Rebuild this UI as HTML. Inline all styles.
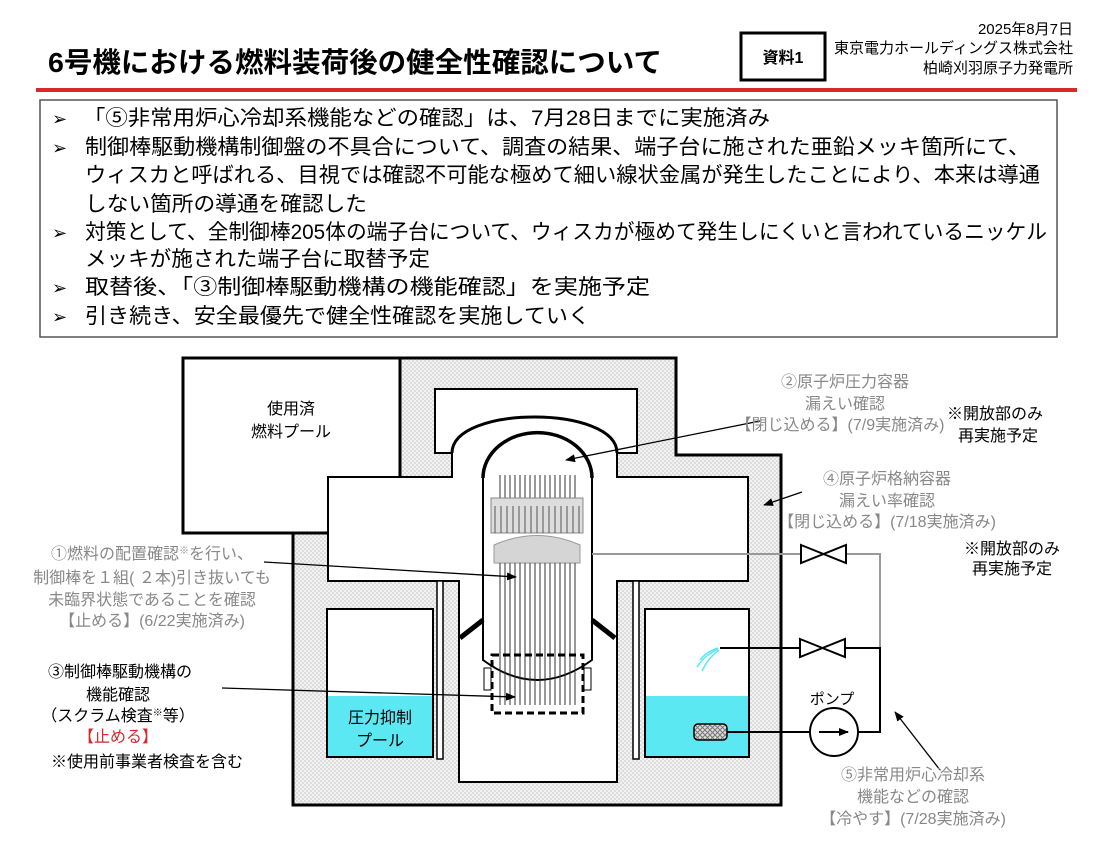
<!DOCTYPE html>
<html><head><meta charset="utf-8"><style>
body{margin:0;background:#fff;}
svg{display:block;font-family:"Liberation Sans","Noto Sans CJK JP",sans-serif;}
</style></head><body>
<svg width="1113" height="861" viewBox="0 0 1113 861" xmlns="http://www.w3.org/2000/svg">
<defs>
<pattern id="h" width="4" height="4" patternUnits="userSpaceOnUse"><rect width="4" height="4" fill="#f2f2f2"/><rect width="2" height="2" fill="#dcdcdc"/><rect x="2" y="2" width="2" height="2" fill="#dcdcdc"/></pattern>
<pattern id="x" width="5" height="5" patternUnits="userSpaceOnUse"><rect width="5" height="5" fill="#ddd"/><path d="M0 0L5 5M5 0L0 5" stroke="#777" stroke-width="1"/></pattern>
<marker id="a" markerWidth="10" markerHeight="8" refX="9" refY="4" orient="auto" markerUnits="userSpaceOnUse"><path d="M0 0L10 4L0 8z" fill="#000"/></marker>
</defs>
<!-- header -->
<text x="48" y="72" font-size="28" font-weight="bold" textLength="614" lengthAdjust="spacingAndGlyphs">6号機における燃料装荷後の健全性確認について</text>
<rect x="741" y="33" width="84" height="47" fill="#fff" stroke="#000" stroke-width="3"/>
<text x="783" y="63" font-size="16" font-weight="bold" text-anchor="middle">資料1</text>
<g font-size="15" text-anchor="end"><text x="1073" y="34">2025年8月7日</text><text x="1073" y="53">東京電力ホールディングス株式会社</text><text x="1073" y="73">柏崎刈羽原子力発電所</text></g>
<rect x="36" y="88" width="1041" height="4" fill="#d8282c"/>
<!-- bullets -->
<rect x="40" y="100" width="1017" height="237" fill="#fff" stroke="#555" stroke-width="1.5"/>
<g font-size="21" lengthAdjust="spacingAndGlyphs">
<g font-size="18"><text x="52" y="125">➢</text><text x="52" y="154">➢</text><text x="52" y="239">➢</text><text x="52" y="294">➢</text><text x="52" y="323">➢</text></g>
<text x="83" y="125" textLength="687" lengthAdjust="spacingAndGlyphs">「⑤非常用炉心冷却系機能などの確認」は、7月28日までに実施済み</text>
<text x="85" y="154" textLength="945" lengthAdjust="spacingAndGlyphs">制御棒駆動機構制御盤の不具合について、調査の結果、端子台に施された亜鉛メッキ箇所にて、</text>
<text x="85" y="182" textLength="955" lengthAdjust="spacingAndGlyphs">ウィスカと呼ばれる、目視では確認不可能な極めて細い線状金属が発生したことにより、本来は導通</text>
<text x="85" y="211" textLength="282" lengthAdjust="spacingAndGlyphs">しない箇所の導通を確認した</text>
<text x="85" y="239" textLength="962" lengthAdjust="spacingAndGlyphs">対策として、全制御棒205体の端子台について、ウィスカが極めて発生しにくいと言われているニッケル</text>
<text x="85" y="266" textLength="345" lengthAdjust="spacingAndGlyphs">メッキが施された端子台に取替予定</text>
<text x="85" y="294" textLength="565" lengthAdjust="spacingAndGlyphs">取替後、「③制御棒駆動機構の機能確認」を実施予定</text>
<text x="85" y="323" textLength="505" lengthAdjust="spacingAndGlyphs">引き続き、安全最優先で健全性確認を実施していく</text>
</g>
<!-- building -->
<path d="M400 358H676V455H781V805H293V455H400Z" fill="url(#h)" stroke="#000" stroke-width="3"/>
<rect x="183" y="358" width="217" height="175" fill="#fff" stroke="#000" stroke-width="3"/>
<text x="291" y="414" font-size="16" text-anchor="middle">使用済</text>
<text x="291" y="437" font-size="16" text-anchor="middle">燃料プール</text>
<!-- drywell white -->
<path d="M435 389H637V453H617V477H748V581H617V782H459V581H328V477H452V453H435Z" fill="#fff" stroke="#000" stroke-width="2"/>
<path d="M452 453V477 M617 453V477" stroke="#000" stroke-width="2"/>
<path d="M452 453C452 405 617 405 617 453" fill="none" stroke="#000" stroke-width="3"/>
<!-- inner walls -->
<rect x="437" y="581" width="6" height="178" fill="#fff" stroke="#000" stroke-width="1.5"/>
<rect x="633" y="581" width="6" height="178" fill="#fff" stroke="#000" stroke-width="1.5"/>
<!-- pools -->
<rect x="327" y="609" width="106" height="148" fill="#fff" stroke="#000" stroke-width="2"/>
<rect x="328" y="696" width="104" height="60" fill="#5ce8f3"/>
<text x="380" y="723" font-size="16" text-anchor="middle">圧力抑制</text>
<text x="380" y="746" font-size="16" text-anchor="middle">プール</text>
<rect x="645" y="609" width="104" height="148" fill="#fff" stroke="#000" stroke-width="2"/>
<rect x="646" y="696" width="102" height="60" fill="#5ce8f3"/>
<path d="M700 660Q706 652 718 648M697 667Q704 656 718 649M702 671Q708 658 719 650" fill="none" stroke="#5ce8f3" stroke-width="1.5"/>
<rect x="694" y="724" width="33" height="16" rx="4" fill="url(#x)" stroke="#000" stroke-width="1.5"/>
<!-- RPV -->
<path d="M483 478A54 45 0 0 1 592 478" fill="none" stroke="#000" stroke-width="3.5"/>
<path d="M483 478V660Q537 700 592 660V478" fill="none" stroke="#000" stroke-width="2"/>
<path d="M483 620L460 638M592 620L615 638" stroke="#000" stroke-width="5"/>
<g stroke="#333" stroke-width="1">
<path d="M500 475V498M505 475V498M510 475V498M515 475V498M520 475V498M525 475V498M530 475V498M535 475V498M540 475V498M545 475V498M550 475V498M555 475V498M560 475V498M565 475V498M570 475V498M575 475V498"/>
</g>
<rect x="491" y="498" width="92" height="35" fill="#ddd" stroke="#888"/>
<g stroke="#555" stroke-width="1"><path d="M495 506V533M501 506V533M507 506V533M513 506V533M519 506V533M525 506V533M531 506V533M537 506V533M543 506V533M549 506V533M555 506V533M561 506V533M567 506V533M573 506V533M579 506V533"/></g>
<path d="M494 563V545Q537 526 580 545V563Z" fill="#d5d5d5" stroke="#999"/>
<g stroke="#333" stroke-width="1"><path d="M500 563V705M505 563V705M510 563V705M515 563V705M520 563V705M525 563V705M530 563V705M535 563V705M540 563V705M545 563V705M550 563V705M555 563V705M560 563V705M565 563V705M570 563V705M575 563V705"/></g>
<rect x="492" y="655" width="91" height="58" fill="none" stroke="#000" stroke-width="3" stroke-dasharray="7 4"/>
<rect x="484" y="668" width="7" height="22" fill="#fff" stroke="#000"/>
<rect x="584" y="668" width="7" height="22" fill="#fff" stroke="#000"/>
<!-- piping -->
<path d="M592 554H880V648" fill="none" stroke="#999" stroke-width="2"/>
<path d="M720 648H880V732H858M810 732H727" fill="none" stroke="#000" stroke-width="2"/>
<path d="M801 545L846 563V545L801 563Z" fill="#fff" stroke="#000" stroke-width="2"/>
<path d="M800 639L845 657V639L800 657Z" fill="#fff" stroke="#000" stroke-width="2"/>
<circle cx="834" cy="732" r="24" fill="#fff" stroke="#000" stroke-width="2"/>
<path d="M819 732H848" stroke="#000" stroke-width="2" marker-end="url(#a)"/>
<text x="832" y="704" font-size="15" text-anchor="middle">ポンプ</text>
<!-- leaders -->
<g stroke="#000" stroke-width="1.3" fill="none" marker-end="url(#a)">
<path d="M760 421L566 460"/><path d="M802 492L764 505"/><path d="M264 562L516 577"/><path d="M222 688L515 697"/><path d="M940 770L895 712"/>
</g>
<!-- labels -->
<g font-size="16" fill="#888" text-anchor="middle">
<text x="152" y="559">①燃料の配置確認<tspan font-size="10" dy="-5">※</tspan><tspan dy="5">を行い、</tspan></text>
<text x="152" y="583">制御棒を１組( ２本)引き抜いても</text>
<text x="152" y="605">未臨界状態であることを確認</text>
<text x="152" y="626">【止める】(6/22実施済み)</text>
<text x="845" y="387">②原子炉圧力容器</text>
<text x="845" y="409">漏えい確認</text>
<text x="840" y="430">【閉じ込める】(7/9実施済み)</text>
<text x="887" y="484">④原子炉格納容器</text>
<text x="887" y="506">漏えい率確認</text>
<text x="887" y="527">【閉じ込める】(7/18実施済み)</text>
<text x="913" y="780">⑤非常用炉心冷却系</text>
<text x="913" y="802">機能などの確認</text>
<text x="913" y="824">【冷やす】(7/28実施済み)</text>
</g>
<g font-size="16" text-anchor="middle">
<text x="995" y="419">※開放部のみ</text><text x="998" y="441">再実施予定</text>
<text x="1012" y="554">※開放部のみ</text><text x="1012" y="574">再実施予定</text>
<text x="120" y="677">③制御棒駆動機構の</text>
<text x="118" y="700">機能確認</text>
<text x="118" y="721">（スクラム検査<tspan font-size="10" dy="-5">※</tspan><tspan dy="5">等）</tspan></text>
<text x="118" y="742" fill="#d8282c">【止める】</text>
<text x="147" y="767">※使用前事業者検査を含む</text>
</g>
</svg>
</body></html>
